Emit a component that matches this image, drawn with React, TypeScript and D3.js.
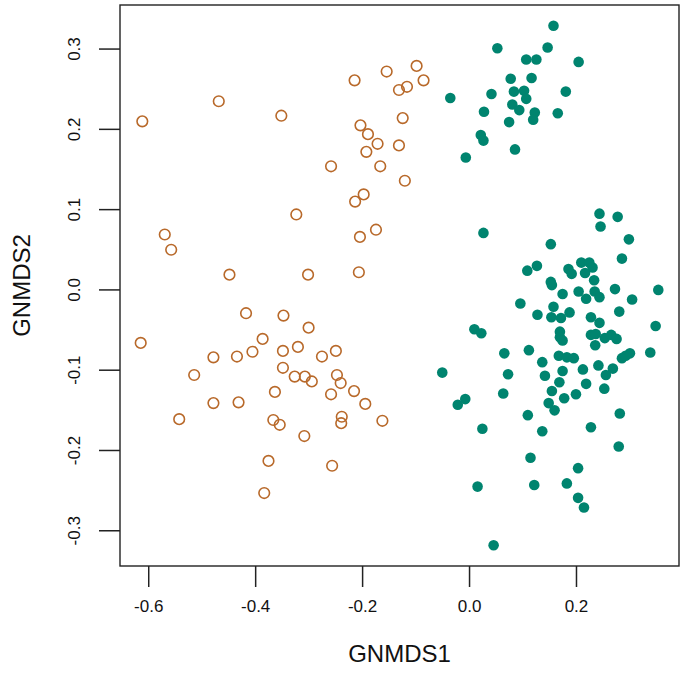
import React from "react";
import * as d3 from "d3";

const brownX = [-0.612,-0.469,-0.352,-0.324,-0.570,-0.558,-0.449,-0.302,-0.215,-0.155,-0.099,-0.132,-0.117,-0.086,-0.125,-0.204,-0.190,-0.172,-0.132,-0.193,-0.259,-0.167,-0.121,-0.198,-0.214,-0.175,-0.205,-0.207,
-0.615,-0.418,-0.348,-0.301,-0.387,-0.479,-0.435,-0.406,-0.349,-0.321,-0.349,-0.515,-0.327,-0.308,-0.295,-0.364,-0.479,-0.432,-0.367,-0.355,-0.309,-0.543,-0.376,-0.384,-0.276,-0.250,-0.248,-0.241,-0.259,-0.216,-0.195,-0.239,-0.240,-0.163,-0.257];
const brownY = [0.210,0.235,0.217,0.094,0.069,0.050,0.019,0.019,0.261,0.272,0.279,0.249,0.253,0.261,0.214,0.205,0.194,0.182,0.180,0.172,0.154,0.154,0.136,0.119,0.110,0.075,0.066,0.022,
-0.066,-0.029,-0.032,-0.047,-0.061,-0.084,-0.083,-0.077,-0.076,-0.071,-0.097,-0.106,-0.108,-0.108,-0.114,-0.127,-0.141,-0.140,-0.162,-0.168,-0.182,-0.161,-0.213,-0.253,-0.083,-0.076,-0.106,-0.116,-0.130,-0.126,-0.142,-0.158,-0.166,-0.163,-0.219];

const greenX = [0.157,0.052,0.146,0.106,0.125,0.204,0.077,0.116,0.083,0.102,0.106,0.180,-0.036,0.041,0.080,0.093,0.122,0.119,0.165,0.027,0.074,0.021,0.026,0.085,-0.007,0.026,
0.243,0.277,0.245,0.298,0.152,0.285,0.108,0.126,0.209,0.224,0.230,0.185,0.191,0.216,0.233,0.152,0.154,0.204,0.234,0.243,0.272,0.353,0.174,0.218,0.304,0.095,0.157,0.127,0.153,0.171,0.187,0.227,0.243,0.280,0.348,0.009,0.022,0.169,0.169,0.174,0.227,0.236,0.253,0.265,0.275,0.235,0.065,0.111,0.167,0.182,0.195,0.285,0.292,0.300,0.338,0.136,0.241,0.268,0.212,0.174,-0.051,0.072,0.141,0.255,0.168,0.218,0.252,0.154,0.199,0.177,0.063,-0.022,-0.008,0.148,0.159,0.109,0.281,0.024,0.136,0.227,0.279,0.114,0.203,0.015,0.121,0.182,0.203,0.214,0.045];
const greenY = [0.329,0.301,0.302,0.287,0.287,0.284,0.263,0.264,0.247,0.248,0.238,0.247,0.239,0.244,0.231,0.224,0.221,0.212,0.220,0.222,0.209,0.193,0.186,0.175,0.165,0.071,
0.095,0.091,0.079,0.063,0.057,0.039,0.024,0.030,0.034,0.034,0.028,0.026,0.020,0.021,0.012,0.010,0.006,-0.002,-0.002,-0.009,0.001,0.000,-0.005,-0.011,-0.012,-0.017,-0.021,-0.031,-0.034,-0.035,-0.028,-0.034,-0.041,-0.027,-0.045,-0.049,-0.054,-0.052,-0.059,-0.063,-0.056,-0.055,-0.060,-0.056,-0.061,-0.069,-0.079,-0.075,-0.082,-0.084,-0.085,-0.085,-0.082,-0.079,-0.078,-0.090,-0.094,-0.098,-0.099,-0.101,-0.103,-0.105,-0.107,-0.106,-0.115,-0.117,-0.123,-0.126,-0.130,-0.135,-0.129,-0.143,-0.136,-0.141,-0.150,-0.156,-0.154,-0.173,-0.176,-0.171,-0.195,-0.209,-0.222,-0.245,-0.243,-0.241,-0.259,-0.271,-0.318];

const xTicks = [-0.6, -0.4, -0.2, 0.0, 0.2];
const yTicks = [-0.3, -0.2, -0.1, 0.0, 0.1, 0.2, 0.3];
const xTitle = "GNMDS1";
const yTitle = "GNMDS2";

const W = 686, H = 693;
const L = 120, R = 679, T = 5, B = 566;

export default function App() {
  const allX = [...brownX, ...greenX];
  const allY = [...brownY, ...greenY];
  const [x0, x1] = d3.extent(allX) as [number, number];
  const [y0, y1] = d3.extent(allY) as [number, number];
  const px = (x1 - x0) * 0.04, py = (y1 - y0) * 0.04;
  const x = d3.scaleLinear().domain([x0 - px, x1 + px]).range([L, R]);
  const y = d3.scaleLinear().domain([y0 - py, y1 + py]).range([B, T]);
  const font = "'Liberation Sans', Arial, sans-serif";
  const fmt = (t: number) => d3.format(".1f")(t).replace("\u2212", "-");
  return (
    <svg width={W} height={H} style={{ position: "absolute", left: 0, top: 0, background: "#fff" }}>
      <rect x={L} y={T} width={R - L} height={B - T} fill="none" stroke="#222" strokeWidth={1.4} />
      {xTicks.map((t) => (
        <g key={"x" + t}>
          <line x1={x(t)} x2={x(t)} y1={B} y2={B + 21} stroke="#222" strokeWidth={1.5} />
          <text x={x(t)} y={612} textAnchor="middle" fontFamily={font} fontSize={17} fill="#111">{fmt(t)}</text>
        </g>
      ))}
      {yTicks.map((t) => (
        <g key={"y" + t}>
          <line x1={L - 21} x2={L} y1={y(t)} y2={y(t)} stroke="#222" strokeWidth={1.5} />
          <text transform={`translate(80,${y(t)}) rotate(-90)`} textAnchor="middle" fontFamily={font} fontSize={17} fill="#111">{fmt(t)}</text>
        </g>
      ))}
      <text x={(L + R) / 2 - 0} y={662} textAnchor="middle" fontFamily={font} fontSize={24} fill="#111">{xTitle}</text>
      <text transform={`translate(30,${(T + B) / 2}) rotate(-90)`} textAnchor="middle" fontFamily={font} fontSize={24} fill="#111">{yTitle}</text>
      {brownX.map((v, i) => (
        <circle key={"b" + i} cx={x(v)} cy={y(brownY[i])} r={5.3} fill="none" stroke="#b8692a" strokeWidth={1.6} />
      ))}
      {greenX.map((v, i) => (
        <circle key={"g" + i} cx={x(v)} cy={y(greenY[i])} r={5.3} fill="#00846f" />
      ))}
    </svg>
  );
}
